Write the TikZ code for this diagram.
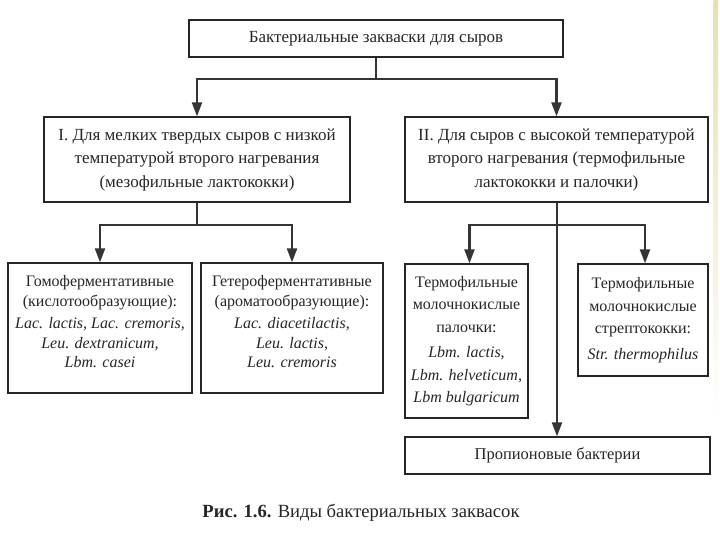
\documentclass[tikz,border=0pt]{standalone}
\usepackage{fontspec}
\setmainfont{Liberation Serif}
\usetikzlibrary{arrows.meta,positioning}
\definecolor{ink}{HTML}{262626}
\definecolor{conn}{HTML}{353535}
\definecolor{edge}{HTML}{E8DFB2}
\begin{document}
\begin{tikzpicture}[x=1pt,y=-1pt,
  box/.style={draw=ink,line width=1.3pt,rectangle,inner sep=0pt,align=center,text=ink,
    font=\fontsize{17}{23.5}\selectfont},
  txt/.style={inner sep=0pt,align=center,text=ink,font=\fontsize{16}{19.5}\selectfont},
  conn/.style={draw=conn,line width=2.2pt},
  arr/.style={conn,-{Triangle[width=10pt,length=14pt]}}]
\useasboundingbox (0,0) rectangle (720,540);
\fill[white] (0,0) rectangle (720,540);
\shade[top color=edge,bottom color=white] (713.5,0) rectangle (718,420);
% boxes
\node[box,minimum width=374pt,minimum height=37pt] (top) at (376,38.5) {Бактериальные закваски для сыров};
\node[box,minimum width=306pt,minimum height=85pt] (l1a) at (197,159.5)
  {I. Для мелких твердых сыров с низкой\\температурой второго нагревания\\(мезофильные лактококки)};
\node[box,minimum width=303pt,minimum height=85pt] (l1b) at (556.5,159.5)
  {II. Для сыров с высокой температурой\\второго нагревания (термофильные\\лактококки и палочки)};
\node[box,minimum width=184pt,minimum height=130pt] (a) at (100,328) {};
\node[txt] (at) at (100,322)
  {Гомоферментативные\\(кислотообразующие):\\[3pt]\textit{Lac. lactis, Lac. cremoris,}\\\textit{Leu. dextranicum,}\\\textit{Lbm. casei}};
\node[box,minimum width=182pt,minimum height=130pt] (b) at (292,328) {};
\node[txt] (bt) at (292,322)
  {Гетероферментативные\\(ароматообразующие):\\[3pt]\textit{Lac. diacetilactis,}\\\textit{Leu. lactis,}\\\textit{Leu. cremoris}};
\node[box,font=\fontsize{16}{22.5}\selectfont,minimum width=123pt,minimum height=154pt] (c) at (466.5,341)
  {Термофильные\\молочнокислые\\палочки:\\[3pt]\textit{Lbm. lactis,}\\\textit{Lbm. helveticum,}\\\textit{Lbm bulgaricum}};
\node[box,font=\fontsize{16}{22.5}\selectfont,minimum width=130pt,minimum height=112pt] (d) at (643,320)
  {Термофильные\\молочнокислые\\стрептококки:\\[3pt]\textit{Str. thermophilus}};
\node[box,font=\fontsize{16.5}{20}\selectfont,minimum width=305pt,minimum height=37pt] (e) at (557.5,455.5) {\raisebox{-2pt}{Пропионовые бактерии}};
\node[text=ink,font=\fontsize{18.6}{22}\selectfont] (cap) at (361,513) {\textbf{Рис. 1.6.} Виды бактериальных заквасок};
% junctions
\coordinate (j1) at (376,79);
\coordinate (j2) at (197,225);
\coordinate (j3) at (557,225);
% connectors
\draw[conn] (top.south) -- (j1);
\draw[arr] (j1) -| (l1a.north);
\draw[arr] (j1) -| (l1b.north);
\draw[conn] (l1a.south) -- (j2);
\draw[arr] (j2) -| (a.north);
\draw[arr] (j2) -| (b.north);
\draw[arr] (l1b.south -| j3) -- (j3 |- e.north);
\draw[arr] (j3) -| ([xshift=3pt]c.north);
\draw[arr] (j3) -| ([xshift=2pt]d.north);
\end{tikzpicture}
\end{document}
